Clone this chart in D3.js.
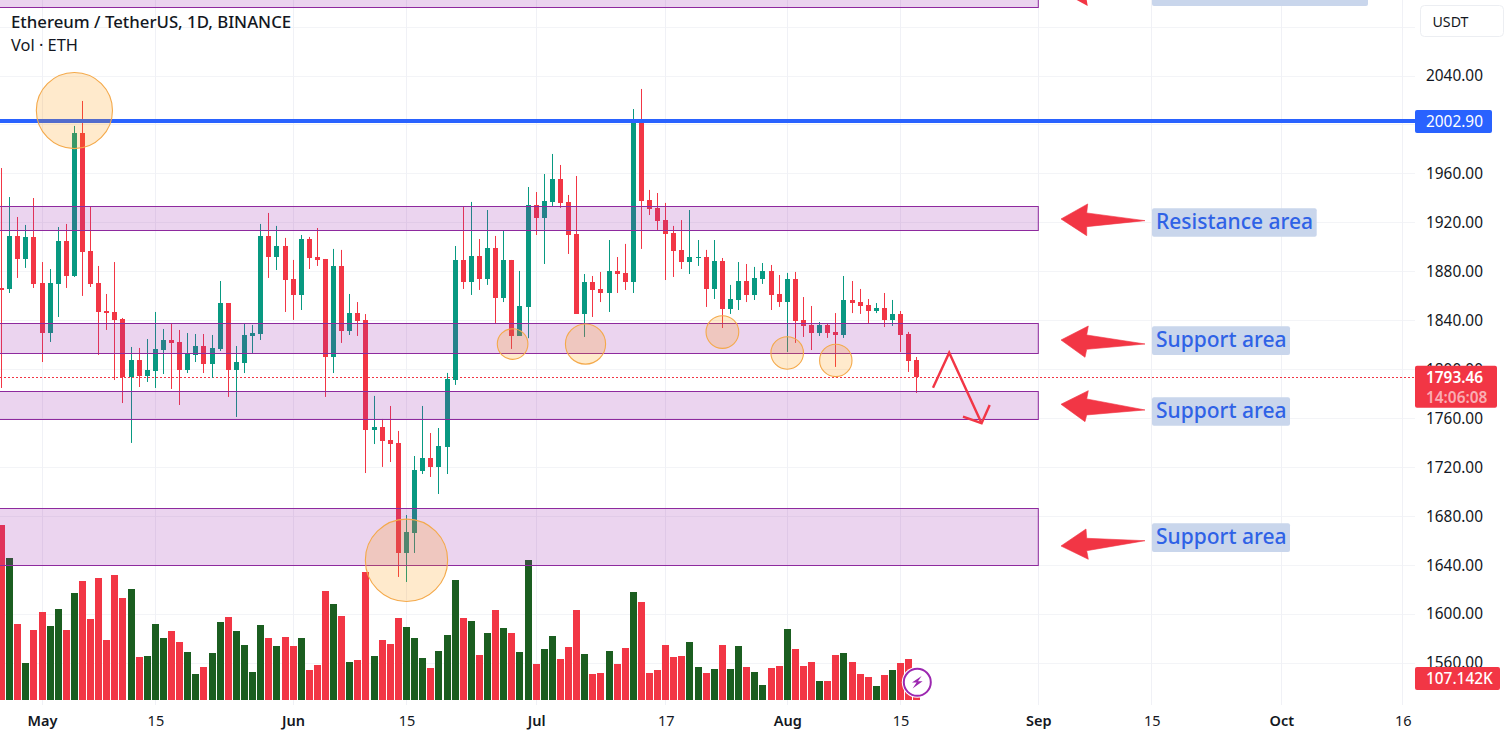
<!DOCTYPE html>
<html>
<head>
<meta charset="utf-8">
<script src="https://cdn.jsdelivr.net/npm/d3@7/dist/d3.min.js"></script>
<style>
html,body{margin:0;padding:0;background:#fff;overflow:hidden}
svg{display:block}
text{font-family:"Noto Sans",sans-serif}
</style>
</head>
<body>
<svg id="c" width="1506" height="738"></svg>
<script>
// Daily candles; day index 0 is 1 May, first candle is day -5.
const firstDay = -5;
const opens = [
1866.4,1865.6,1908.9,1890.1,1908.1,1870.5,1829.6,1869.7,1904.8,1876.2,
1993.0,1896.6,1870.5,1847.6,1846.8,1841.1,1793.7,1807.6,1794.5,1798.6,
1815.7,1823.9,1822.3,1799.4,1811.7,1819.0,1804.3,1816.6,1854.1,1799.4,
1805.1,1827.2,1828.8,1908.9,1891.7,1900.7,1873.7,1860.7,1906.4,1891.7,
1889.7,1810.0,1884.4,1831.3,1845.9,1840.3,1750.4,1752.8,1742.2,1739.8,
1649.9,1666.2,1716.9,1727.5,1720.2,1736.5,1791.2,1889.3,1871.3,1892.6,
1873.7,1899.1,1858.2,1889.3,1827.2,1850.9,1934.2,1923.6,1936.7,1955.4,
1936.7,1910.5,1845.2,1871.3,1865.6,1862.3,1880.3,1878.7,1871.3,2003.7,
1938.3,1931.8,1921.9,1911.3,1897.5,1887.6,1890.9,1891.7,1865.6,1888.5,
1849.2,1856.6,1872.1,1860.7,1873.7,1880.3,1861.5,1854.9,1873.7,1840.3,
1836.2,1829.6,1836.2,1830.5,1828.0,1856.6,1854.9,1852.5,1847.6,1850.1,
1840.3,1845.2,1828.8,1807.6];
const highs = [
1964.4,1940.7,1924.4,1917.9,1939.9,1887.6,1881.9,1916.2,1918.7,1998.8,
2019.2,1932.6,1884.4,1861.5,1887.6,1841.9,1818.2,1817.4,1824.7,1846.8,
1832.9,1837.8,1832.1,1829.6,1828.8,1828.8,1828.0,1872.1,1854.1,1819.0,
1837.8,1836.2,1918.7,1927.7,1917.1,1907.3,1889.3,1909.7,1908.1,1915.4,
1890.1,1898.3,1897.5,1861.5,1854.9,1845.1,1778.2,1759.4,1770.0,1749.6,
1680.9,1729.1,1770.0,1747.9,1752.0,1797.0,1900.7,1932.6,1936.7,1906.4,
1930.1,1908.9,1913.0,1889.3,1880.3,1948.9,1944.8,1959.5,1975.9,1966.9,
1942.4,1957.9,1877.8,1876.2,1879.5,1905.6,1891.7,1902.4,2012.6,2029.0,
1946.5,1944.0,1935.9,1917.1,1921.9,1930.1,1905.6,1897.5,1905.6,1890.9,
1868.9,1887.6,1886.0,1883.6,1886.8,1885.2,1877.0,1878.7,1879.5,1859.0,
1851.7,1838.6,1837.8,1845.9,1876.2,1872.1,1865.6,1857.4,1854.1,1862.3,
1856.6,1847.6,1830.5,1810.0];
const lows = [
1784.7,1862.3,1874.6,1882.8,1866.4,1805.9,1822.3,1842.7,1866.4,1875.4,
1859.9,1867.2,1811.7,1832.1,1791.2,1772.4,1739.8,1785.5,1789.6,1784.7,
1796.1,1783.9,1770.8,1796.9,1805.9,1796.9,1792.9,1814.9,1777.4,1761.0,
1796.9,1813.3,1823.9,1874.6,1881.1,1846.8,1840.3,1848.4,1881.9,1884.4,
1777.4,1796.9,1821.5,1828.0,1827.2,1715.2,1738.9,1720.2,1724.2,1630.3,
1626.2,1649.9,1714.4,1712.0,1698.1,1714.4,1787.2,1865.6,1860.7,1864.8,
1868.9,1837.8,1854.9,1816.6,1827.2,1825.4,1909.7,1886.0,1933.4,1931.8,
1894.2,1845.2,1826.4,1842.7,1854.9,1846.8,1862.3,1864.8,1862.3,1898.3,
1926.0,1913.8,1872.9,1875.4,1881.9,1877.8,1884.4,1850.9,1857.4,1833.7,
1845.2,1848.4,1854.9,1856.6,1869.7,1848.4,1850.9,1814.1,1821.5,1826.4,
1815.7,1827.2,1825.6,1801.9,1825.6,1845.9,1845.2,1837.8,1845.9,1834.5,
1835.4,1814.1,1797.8,1780.6];
const closes = [
1864.8,1908.9,1890.1,1908.1,1869.7,1829.6,1870.5,1904.8,1876.2,1993.0,
1895.8,1869.7,1846.8,1845.9,1840.3,1793.7,1807.6,1794.5,1799.4,1816.6,
1823.9,1821.5,1799.4,1812.5,1819.0,1804.3,1817.4,1854.1,1799.4,1805.9,
1828.0,1829.6,1908.9,1891.7,1900.7,1872.9,1860.7,1906.4,1890.9,1889.3,
1810.0,1884.4,1831.3,1845.9,1839.4,1750.4,1752.8,1741.4,1738.9,1649.9,
1667.1,1717.7,1727.5,1720.2,1737.3,1792.0,1889.3,1871.3,1892.6,1873.7,
1899.1,1858.2,1889.3,1827.2,1851.7,1934.2,1923.6,1937.5,1955.4,1935.9,
1909.7,1845.2,1871.3,1864.8,1862.3,1880.3,1877.8,1871.3,2002.8,1937.5,
1930.9,1921.1,1910.5,1896.6,1887.6,1891.7,1891.7,1865.6,1888.5,1849.2,
1857.4,1872.1,1860.7,1874.6,1880.3,1860.7,1854.9,1873.7,1839.4,1835.4,
1829.6,1836.2,1829.6,1828.0,1856.6,1854.1,1851.7,1847.6,1850.1,1840.3,
1845.2,1828.0,1806.8,1793.46];
// Volume in thousands of ETH
const volumes = [
892.5,724.2,387.6,188.7,357,448.8,377.4,464.1,357,545.7,
606.9,413.1,622.2,306,637.5,520.2,566.1,219.3,224.4,387.6,
316.2,351.9,295.8,244.8,132.6,168.3,239.7,397.8,423.3,351.9,
280.5,142.8,382.5,316.2,275.4,321.3,275.4,316.2,153,178.5,
555.9,489.6,428.4,193.8,204,652.8,224.4,306,285.6,418.2,
372.3,316.2,214.2,163.2,249.9,331.5,612,418.2,402.9,229.5,
341.7,459,367.2,341.7,244.8,714,183.6,260.1,326.4,209.1,
270.3,459,234.6,132.6,137.7,249.9,183.6,265.2,550.8,499.8,
137.7,153,280.5,219.3,224.4,295.8,168.3,137.7,158.1,280.5,
158.1,275.4,168.3,142.8,76.5,163.2,173.4,362.1,260.1,173.4,
193.8,96.9,96.9,229.5,239.7,193.8,132.6,117.3,71.4,127.5,
153,188.7,209.1,107.142];

const priceTicks = [1560,1600,1640,1680,1720,1760,1800,1840,1880,1920,1960,2040];
const gridPrices = [1560,1600,1640,1680,1720,1760,1800,1840,1880,1920,1960,2000,2040,2080];
const dayTicks = [0,14,31,45,61,77,92,106,123,137,153,168];
const dayLabels = ["May","15","Jun","15","Jul","17","Aug","15","Sep","15","Oct","16"];
const monthLabels = ["May","Jun","Jul","Aug","Sep","Oct"];

// Price zones [top, bottom]
const zones = [[2130,2096],[1933.4,1913.8],[1837.8,1813.3],[1782.2,1759.4],[1686.7,1640.1]];
const zoneEndDay = 123;
const levelPrice = 2002.90;
const lastPrice = 1793.46;
const lastVolumeLabel = "107.142K";
const countdown = "14:06:08";

// Highlight circles: day, price
const circleDays = [4,45,58.1,67.1,84,92,98];
const circlePrices = [2011.4,1643.9,1820.6,1820.6,1830.4,1813.3,1807.2];
const circleRadiusDays = [4.7,5.08,1.89,2.48,2.02,2.01,2.0];

// Forecast path
const pathDays = [110,112,116];
const pathPrices = [1784.9,1813.5,1755.9];
const headDays = [113.7,116,117];
const headPrices = [1761.3,1755.9,1770.8];

// Call-outs
const calloutTexts = ["Resistance area","Support area","Support area","Support area"];
const calloutPrices = [1922.8,1823.9,1771.4,1655.6];

const W = 1506, plotR = 1415;
const x = d3.scaleLinear().domain([0,168]).range([42,1402.8]);
const y = d3.scaleLinear().domain([1560,2040]).range([663,75.5]);
const v = d3.scaleLinear().domain([0,892.5]).range([700,525]);

const GREEN="#089981", RED="#f23645", VOLGREEN="#1b5e20", BLUE="#2962ff", INK="#131722";
const svg = d3.select("#c");
svg.append("defs").append("clipPath").attr("id","plot").append("rect")
  .attr("x",0).attr("y",0).attr("width",plotR).attr("height",705);
const plot = svg.append("g").attr("clip-path","url(#plot)");

// grid
plot.append("g").selectAll("line").data(gridPrices).join("line")
  .attr("x1",0).attr("x2",plotR)
  .attr("y1",d=>Math.round(y(d))+.5).attr("y2",d=>Math.round(y(d))+.5)
  .attr("stroke","#f3f4f7");
plot.append("g").selectAll("line").data(dayTicks).join("line")
  .attr("y1",0).attr("y2",705)
  .attr("x1",d=>Math.floor(x(d))+.5).attr("x2",d=>Math.floor(x(d))+.5)
  .attr("stroke","#f0f1f6");

const rows = opens.map((o,i)=>({day:firstDay+i,o,h:highs[i],l:lows[i],c:closes[i],vol:volumes[i],up:closes[i]>=o}));
const px = d=>Math.floor(x(d.day));

// volume
plot.append("g").selectAll("rect").data(rows).join("rect")
  .attr("x",d=>px(d)-3).attr("width",7)
  .attr("y",d=>Math.round(v(d.vol))).attr("height",d=>700-Math.round(v(d.vol)))
  .attr("fill",d=>d.up?VOLGREEN:RED);

// last price dotted line
plot.append("line").attr("x1",0).attr("x2",plotR)
  .attr("y1",Math.round(y(lastPrice))+.5).attr("y2",Math.round(y(lastPrice))+.5)
  .attr("stroke",RED).attr("stroke-dasharray","2 2");

// candles
const cg = plot.append("g");
cg.selectAll("line").data(rows).join("line")
  .attr("x1",d=>px(d)+.5).attr("x2",d=>px(d)+.5)
  .attr("y1",d=>y(d.h)).attr("y2",d=>y(d.l))
  .attr("stroke",d=>d.up?GREEN:RED);
cg.selectAll("rect").data(rows).join("rect")
  .attr("x",d=>px(d)-2).attr("width",5)
  .attr("y",d=>Math.round(y(Math.max(d.o,d.c))))
  .attr("height",d=>Math.max(1,Math.round(y(Math.min(d.o,d.c)))-Math.round(y(Math.max(d.o,d.c)))))
  .attr("fill",d=>d.up?GREEN:RED);

// level
plot.append("line").attr("x1",0).attr("x2",plotR)
  .attr("y1",y(levelPrice)).attr("y2",y(levelPrice))
  .attr("stroke",BLUE).attr("stroke-width",4);

// zones
plot.append("g").selectAll("rect").data(zones).join("rect")
  .attr("x",-2).attr("width",x(zoneEndDay)+2)
  .attr("y",d=>Math.round(y(d[0]))+.5)
  .attr("height",d=>Math.round(y(d[1]))-Math.round(y(d[0])))
  .attr("fill","#9c27b0").attr("fill-opacity",.2)
  .attr("stroke","#8e2a9e").attr("stroke-width",1);

// circles
plot.append("g").selectAll("circle").data(circleDays).join("circle")
  .attr("cx",d=>x(d)).attr("cy",(d,i)=>y(circlePrices[i]))
  .attr("r",(d,i)=>x(circleRadiusDays[i])-x(0))
  .attr("fill","#ff9800").attr("fill-opacity",.2)
  .attr("stroke","#f4a94a").attr("stroke-width",1.1);

// forecast arrow
const ln = d3.line().x(d=>x(d[0])).y(d=>y(d[1]));
plot.append("path").attr("d",ln(d3.zip(pathDays,pathPrices)))
  .attr("fill","none").attr("stroke",RED).attr("stroke-width",2.4);
plot.append("path").attr("d",ln(d3.zip(headDays,headPrices)))
  .attr("fill","none").attr("stroke",RED).attr("stroke-width",2.4);

// call-out arrows (offsets from the tip)
const arrowOffsets = [
  [[0,0],[26.7,-15],[25.7,-6],[84,1.7],[25.7,7.7],[25.7,16.7]],
  [[0,0],[27.3,-14],[25.7,-5],[84,4],[25.7,9.3],[24,17.3]],
  [[0,0],[27.3,-13.6],[25.7,-5.3],[84,5.7],[25.7,10.7],[24,17.4]],
  [[0,0],[25,-17],[25.7,-7.7],[84,-5.3],[25.7,4.7],[27.3,13.3]]
];
const tipX = 1061;
svg.append("g").selectAll("path").data(calloutPrices).join("path")
  .attr("d",(d,i)=>"M"+arrowOffsets[i].map(o=>[tipX+o[0],y(d)+o[1]].join(",")).join("L")+"Z")
  .attr("fill",RED).attr("stroke",RED).attr("stroke-width",.6).attr("stroke-linejoin","round");
svg.append("path").attr("d","M1076.7,0L1087.7,6L1086.7,0Z").attr("fill",RED);

// call-out labels
const boxW = [164.7,138,138,138];
const boxDy = [-10.7,-13.7,-7,-22.7];
const cg2 = svg.append("g");
cg2.append("rect").attr("x",1152).attr("y",-4).attr("width",216).attr("height",10).attr("rx",2).attr("fill","#c9d6ec");
cg2.selectAll("rect.b").data(calloutTexts).join("rect").attr("class","b")
  .attr("x",1152).attr("width",(d,i)=>boxW[i]).attr("height",28.6).attr("rx",2)
  .attr("y",(d,i)=>y(calloutPrices[i])+boxDy[i]).attr("fill","#c9d6ec");
cg2.selectAll("text").data(calloutTexts).join("text")
  .attr("x",1156).attr("y",(d,i)=>y(calloutPrices[i])+boxDy[i]+20.3)
  .attr("fill","#2f62e6").attr("font-size",21).attr("font-weight",500)
  .text(d=>d);

// price axis
const ya = svg.append("g").attr("transform","translate(1426,0)")
  .call(d3.axisRight(y).tickValues(priceTicks).tickSize(0).tickPadding(0).tickFormat(d3.format(".2f")));
ya.select(".domain").remove();
ya.selectAll("text").attr("font-size",15.4).attr("fill",INK).attr("text-anchor","start")
  .style("font-family",'"Noto Sans",sans-serif');

// time axis
const xa = svg.append("g").attr("transform","translate(0,715.5)")
  .call(d3.axisBottom(x).tickValues(dayTicks).tickSize(0).tickPadding(0).tickFormat((d,i)=>dayLabels[i]));
xa.select(".domain").remove();
xa.selectAll("text").attr("font-size",14.5).attr("fill",INK)
  .style("font-family",'"Noto Sans",sans-serif')
  .attr("font-weight",(d,i)=>monthLabels.includes(dayLabels[i])?600:400);

// USDT box
svg.append("rect").attr("x",1420.5).attr("y",5.5).attr("width",83).attr("height",31).attr("rx",4)
  .attr("fill","#fff").attr("stroke","#eceef2");
svg.append("text").attr("x",1432.5).attr("y",22).attr("dy",".35em").attr("font-size",14.2).attr("fill",INK).text("USDT");

// level label
svg.append("rect").attr("x",1415).attr("y",y(levelPrice)-11).attr("width",77).attr("height",23).attr("rx",2).attr("fill",BLUE);
svg.append("text").attr("x",1426).attr("y",y(levelPrice)+.5).attr("dy",".35em").attr("font-size",15.4).attr("fill","#fff").text(d3.format(".2f")(levelPrice));

// last price label
svg.append("rect").attr("x",1415).attr("y",y(lastPrice)-11.5).attr("width",82).attr("height",42).attr("rx",2).attr("fill",RED);
svg.append("text").attr("x",1426).attr("y",y(lastPrice)+.5).attr("dy",".35em").attr("font-size",15.4).attr("font-weight",600).attr("fill","#fff").text(d3.format(".2f")(lastPrice));
svg.append("text").attr("x",1426).attr("y",y(lastPrice)+20.5).attr("dy",".35em").attr("font-size",15.4).attr("font-weight",600).attr("fill","#fff").attr("fill-opacity",.6).text(countdown);

// last volume label
svg.append("rect").attr("x",1415).attr("y",667).attr("width",85).attr("height",23).attr("rx",2).attr("fill",RED);
svg.append("text").attr("x",1426).attr("y",679).attr("dy",".35em").attr("font-size",15.4).attr("font-weight",500).attr("fill","#fff").text(lastVolumeLabel);

// lightning badge
const badge = svg.append("g").attr("transform","translate(917.3,682.3)");
badge.append("circle").attr("r",15.5).attr("fill","#fff");
badge.append("circle").attr("r",13.5).attr("fill","#fff").attr("stroke","#9c27b0").attr("stroke-width",2);
badge.append("path").attr("d","M4.3,-6.3L-5.3,.3L-.7,.3L-4.7,6.3L5.3,-1L.7,-1Z").attr("fill","#9c27b0");

// header
svg.append("text").attr("x",11).attr("y",22).attr("dy",".35em").attr("font-size",16.8).attr("font-weight",500).attr("fill",INK).text("Ethereum / TetherUS, 1D, BINANCE");
svg.append("text").attr("x",11).attr("y",45).attr("dy",".35em").attr("font-size",16.4).attr("fill",INK).text("Vol · ETH");
</script>
</body>
</html>
